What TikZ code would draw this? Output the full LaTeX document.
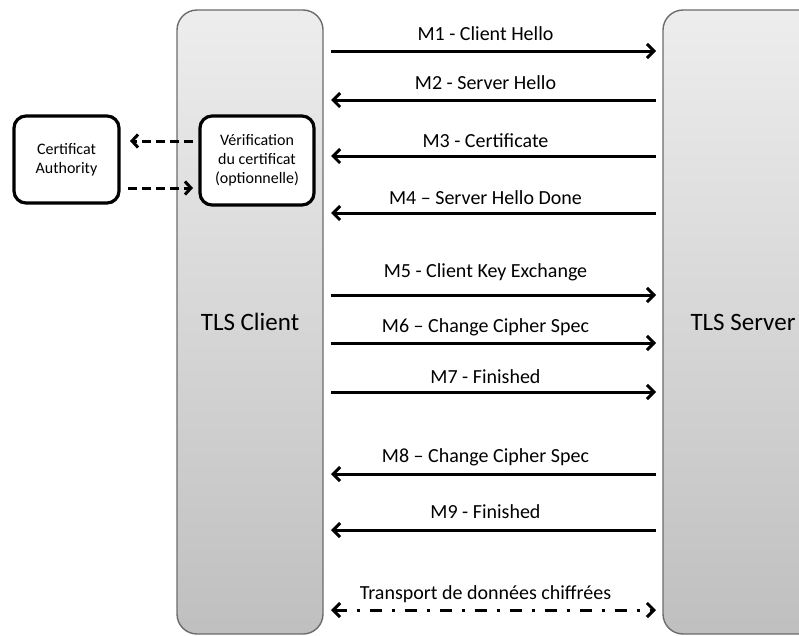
\documentclass[tikz,border=0pt]{standalone}
\usepackage{fontspec}
\setmainfont{Carlito}
\usepackage{tikz}
\usetikzlibrary{arrows.meta}

\tikzset{
  party/.style={draw=gray!85!black, line width=1.4pt, rounded corners=20pt,
    top color=gray!14, bottom color=gray!50, minimum height=624pt,
    font=\fontsize{25}{30}\selectfont},
  infobox/.style={draw, fill=white, line width=3.2pt, rounded corners=12pt,
    align=center, font=\fontsize{16}{19}\selectfont},
  msg/.style={line width=3pt, >={Straight Barb[length=7pt,width=14pt]}},
  tosrv/.style={msg, ->},
  tocli/.style={msg, <-},
  both/.style={msg, <->, dash pattern=on 12pt off 10pt on 3pt off 10pt},
  check/.style={line width=3pt, dash pattern=on 9pt off 5pt,
    -{Straight Barb[length=6pt,width=13pt]}},
  lbl/.style={midway, anchor=base, xshift=-8pt,
    font=\fontsize{20}{24}\selectfont}
}

\begin{document}
\begin{tikzpicture}[x=1pt,y=-1pt]
\useasboundingbox (0,0) rectangle (799,635);
\clip (0,0) rectangle (799,635);

% the two parties
\node[party, minimum width=146pt] (client) at (250,322) {TLS Client};
\node[party, minimum width=160pt] (server) at (743,322) {TLS Server};

% certificate check
\node[infobox, minimum width=105pt, minimum height=87pt] (ca) at (66.5,159.5)
  {Certificat\\Authority};
\node[infobox, minimum width=114pt, minimum height=89pt] (verif) at (257,160.5)
  {Vérification\\du certificat\\(optionnelle)};
\coordinate (v1) at (193,141);
\coordinate (a1) at (130,141);
\coordinate (a2) at (128,188);
\coordinate (v2) at (193,188);
\draw[check] (v1) -- (a1);
\draw[check] (a2) -- (v2);

% handshake messages
\foreach \n/\y/\up/\txt/\dir in {
  1/51/11/{M1 - Client Hello}/tosrv,
  2/100/11/{M2 - Server Hello}/tocli,
  3/156/9/{M3 - Certificate}/tocli,
  4/213/9/{M4 – Server Hello Done}/tocli,
  5/295/18/{M5 - Client Key Exchange}/tosrv,
  6/343/11/{M6 – Change Cipher Spec}/tosrv,
  7/392/9/{M7 - Finished}/tosrv,
  8/474/12/{M8 – Change Cipher Spec}/tocli,
  9/530/12/{M9 - Finished}/tocli,
  10/610/11/{Transport de données chiffrées}/both} {
  \coordinate (c\n) at (331,\y);
  \coordinate (s\n) at (656,\y);
  \draw[\dir] (c\n) -- node[lbl, yshift=\up pt] {\txt} (s\n);
}
\end{tikzpicture}
\end{document}
